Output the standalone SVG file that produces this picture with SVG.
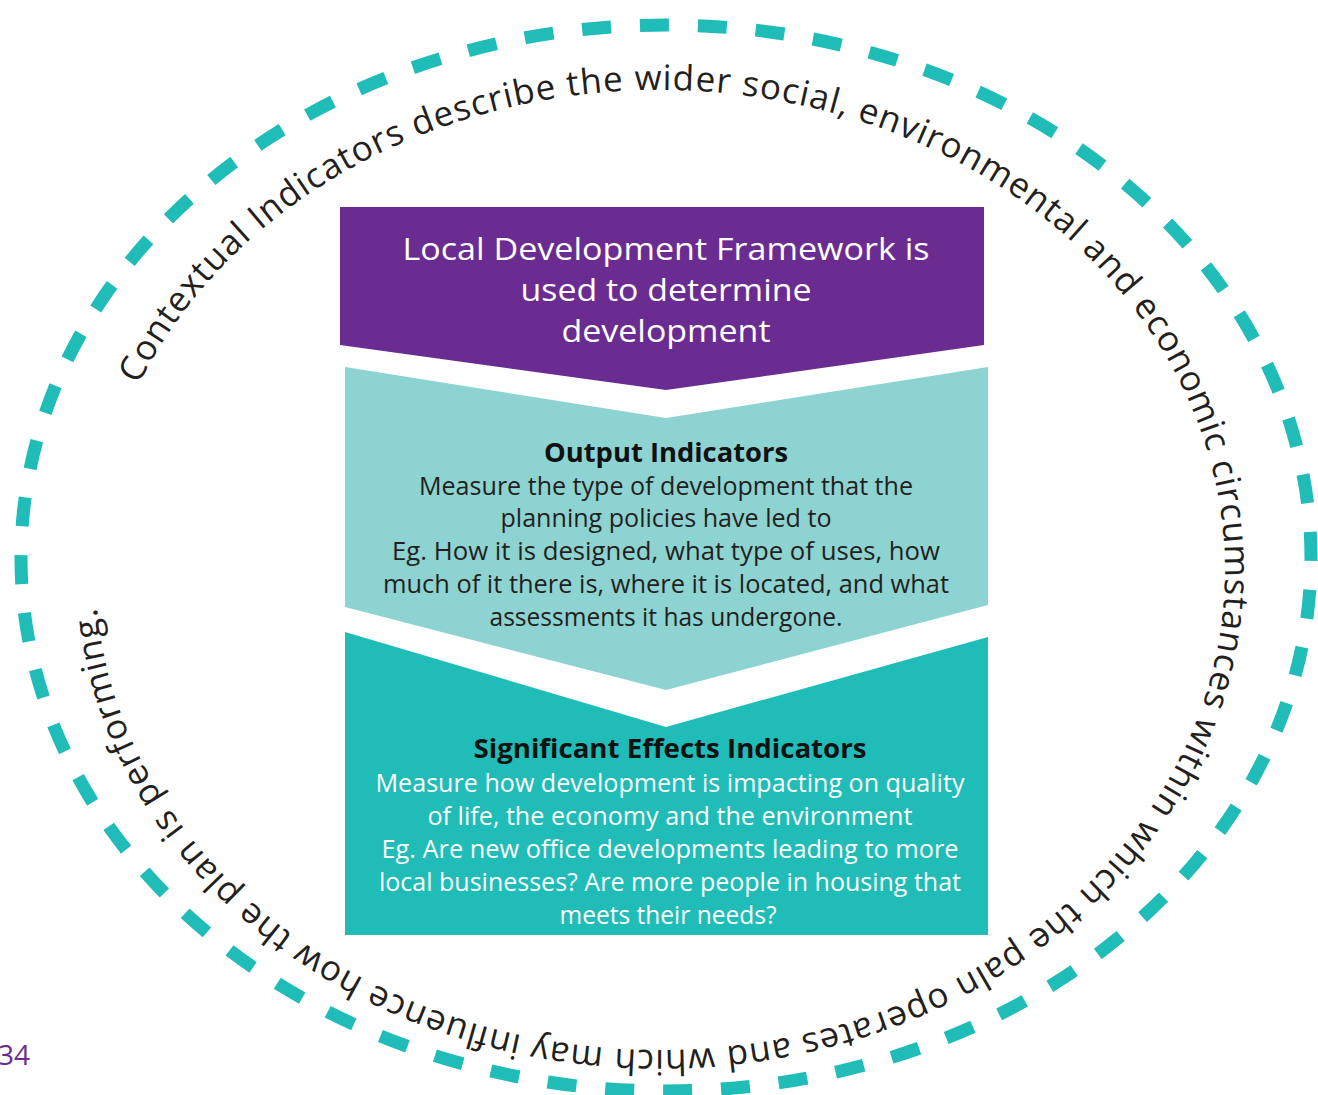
<svg xmlns="http://www.w3.org/2000/svg" width="1318" height="1095" viewBox="0 0 1318 1095">
<style>
.t{font-family:"Open Sans","Noto Sans","Liberation Sans",sans-serif;text-anchor:middle}
.w{fill:#ffffff;font-size:31px}
.b{fill:#231f20;font-size:25px}
.bw{fill:#ffffff;font-size:25px}
.h{fill:#111111;font-size:27px;font-weight:bold}
.ring{fill:none;stroke:#1fbcb8;stroke-width:13;stroke-dasharray:29 28.95;stroke-dashoffset:26.1}
.arc{font-family:"Open Sans","Noto Sans","Liberation Sans",sans-serif;font-size:35px;fill:#231f20}
</style>
<defs>
<path id="tp" d="M 95 570 A 565 480 0 1 1 1225 570 A 565 480 0 1 1 95 570"/>
</defs>
<rect width="1318" height="1095" fill="#ffffff"/>
<g id="connectors">
<path class="ring" d="M 1311 558 A 645 533 0 0 1 666 1091 A 645 533 0 0 1 21 558 A 645 533 0 0 1 666 25 A 645 533 0 0 1 1311 558"/>
</g>
<g id="ring-label">
<text class="arc"><textPath href="#tp" startOffset="192" textLength="3058">Contextual Indicators describe the wider social, environmental and economic circumstances within which the paln operates and which may influence how the plan is performing.</textPath></text>
</g>
<g id="node-ldf">
<polygon points="340,207 984,207 984,345 666,390 340,345" fill="#6a2c91"/>
<text class="t w" x="666" y="260" textLength="527" lengthAdjust="spacingAndGlyphs">Local Development Framework is</text>
<text class="t w" x="666" y="301" textLength="291" lengthAdjust="spacingAndGlyphs">used to determine</text>
<text class="t w" x="666" y="342" textLength="209" lengthAdjust="spacingAndGlyphs">development</text>
</g>
<g id="node-output">
<polygon points="345,367 666,418 988,367 988,605 666,690 345,607" fill="#8dd3d1"/>
<text class="t h" x="666" y="462" textLength="244" lengthAdjust="spacingAndGlyphs">Output Indicators</text>
<text class="t b" x="666" y="495" textLength="494" lengthAdjust="spacingAndGlyphs">Measure the type of development that the</text>
<text class="t b" x="666" y="527" textLength="331" lengthAdjust="spacingAndGlyphs">planning policies have led to</text>
<text class="t b" x="666" y="560" textLength="548" lengthAdjust="spacingAndGlyphs">Eg. How it is designed, what type of uses, how</text>
<text class="t b" x="666" y="593" textLength="566" lengthAdjust="spacingAndGlyphs">much of it there is, where it is located, and what</text>
<text class="t b" x="666" y="626" textLength="353" lengthAdjust="spacingAndGlyphs">assessments it has undergone.</text>
</g>
<g id="node-significant">
<polygon points="345,632 666,727 988,637 988,935 345,935" fill="#1fbcb8"/>
<text class="t h" x="670" y="758" textLength="393" lengthAdjust="spacingAndGlyphs">Significant Effects Indicators</text>
<text class="t bw" x="670" y="792" textLength="589" lengthAdjust="spacingAndGlyphs">Measure how development is impacting on quality</text>
<text class="t bw" x="670" y="825" textLength="485" lengthAdjust="spacingAndGlyphs">of life, the economy and the environment</text>
<text class="t bw" x="670" y="858" textLength="577" lengthAdjust="spacingAndGlyphs">Eg. Are new office developments leading to more</text>
<text class="t bw" x="670" y="891" textLength="582" lengthAdjust="spacingAndGlyphs">local businesses? Are more people in housing that</text>
<text class="t bw" x="668" y="924" textLength="217" lengthAdjust="spacingAndGlyphs">meets their needs?</text>
</g>
<g id="page-number">
<text x="-2" y="1065" font-family="'Open Sans','Noto Sans',sans-serif" font-size="28" fill="#6a2c91">34</text>
</g>
</svg>
